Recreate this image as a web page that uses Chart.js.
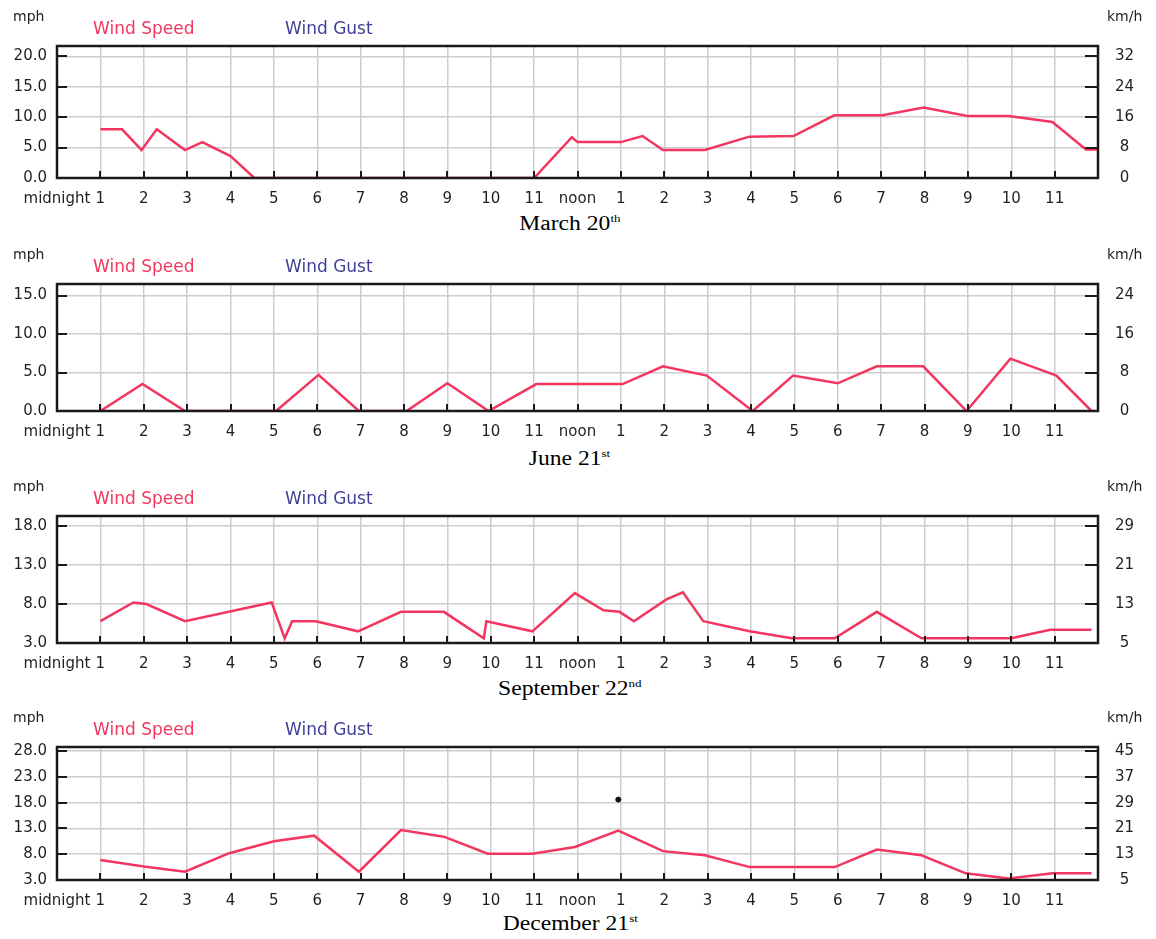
<!DOCTYPE html>
<html>
<head>
<meta charset="utf-8">
<title>Wind speed</title>
<script src="https://cdn.jsdelivr.net/npm/chart.js@4.4.1/dist/chart.umd.min.js"></script>
<style>
  body { margin: 0; background: #fff; }
  #page { position: relative; width: 1156px; height: 939px; overflow: hidden; }
  .panel { position: absolute; left: 0; width: 1156px; }
  .date { position: absolute; left: 0; width: 1140px; text-align: center;
          font-family: 'Liberation Serif', 'Times New Roman', serif; font-size: 20px; color: #000; }
  .date span { display: inline-block; transform: scaleX(1.18); }
  .date sup { font-size: 11px; vertical-align: 8px; }
</style>
</head>
<body>
<div id="page"></div>
<script>
// hour of day (0 = midnight, 24 = next midnight) and wind speed in mph
const marchHours = [1, 1.5, 1.95, 2.3, 2.95, 3.35, 4.0, 4.55, 11.0, 11.87, 12.0, 13.0, 13.5, 13.97, 14.94, 15.96, 16.98, 17.92, 19.03, 19.98, 20.99, 21.94, 22.95, 23.72, 24];
const marchSpeed = [8.0, 8.0, 4.6, 8.0, 4.6, 5.9, 3.6, 0, 0, 6.7, 5.9, 5.9, 6.9, 4.6, 4.6, 6.8, 6.9, 10.3, 10.3, 11.6, 10.2, 10.2, 9.2, 4.7, 4.7];

const juneHours = [1, 1.97, 2.95, 5.05, 6.03, 6.96, 8.06, 9.0, 9.95, 11.05, 13.04, 13.97, 14.98, 16.04, 16.97, 18.0, 18.9, 19.97, 20.97, 21.98, 23.04, 23.85];
const juneSpeed = [0, 3.5, 0, 0, 4.7, 0, 0, 3.6, 0, 3.5, 3.5, 5.8, 4.6, 0, 4.6, 3.6, 5.8, 5.8, 0, 6.8, 4.6, 0];

const septHours = [1, 1.76, 2.06, 2.95, 4.95, 5.25, 5.42, 5.97, 6.94, 7.93, 8.92, 9.84, 9.9, 10.96, 11.94, 12.6, 12.97, 13.3, 14.05, 14.43, 14.9, 15.97, 16.94, 17.93, 18.9, 19.93, 22.0, 22.9, 23.85];
const septSpeed = [5.8, 8.2, 8.0, 5.8, 8.2, 3.6, 5.8, 5.8, 4.5, 7.0, 7.0, 3.6, 5.8, 4.5, 9.4, 7.2, 7.0, 5.8, 8.6, 9.5, 5.8, 4.5, 3.6, 3.6, 7.0, 3.6, 3.6, 4.7, 4.7];

const decHours = [1, 2.0, 2.95, 3.97, 5.0, 5.93, 6.96, 7.93, 8.92, 9.93, 10.96, 11.94, 12.94, 13.97, 14.94, 15.97, 17.93, 18.9, 19.93, 20.95, 21.94, 22.95, 23.85];
const decSpeed = [6.9, 5.6, 4.6, 8.2, 10.5, 11.6, 4.6, 12.7, 11.4, 8.1, 8.1, 9.4, 12.6, 8.6, 7.8, 5.5, 5.5, 8.9, 7.8, 4.3, 3.3, 4.3, 4.3];
const decGustHours = [12.94];
const decGust = [18.6];

// tick values on the mph axis
const marchTicks = [0, 5, 10, 15, 20];
const juneTicks = [0, 5, 10, 15];
const septTicks = [3, 8, 13, 18];
const decTicks = [3, 8, 13, 18, 23, 28];

const hourLabels = ['midnight', '1', '2', '3', '4', '5', '6', '7', '8', '9', '10', '11',
                    'noon', '1', '2', '3', '4', '5', '6', '7', '8', '9', '10', '11', ''];

const MPH_TO_KMH = 1.609344;
const SPEED_COLOR = '#f3365f';
const GUST_COLOR = '#3f3f9a';
const LABEL_COLOR = '#1f1f1f';
const TEXT_FONT = "'DejaVu Sans', 'Liberation Sans', sans-serif";

const panels = [
  { plotTop: 46,  plotBottom: 178, min: 0, max: 21.7, ticks: marchTicks, hours: marchHours, speed: marchSpeed,
    gustHours: [], gust: [], date: 'March 20', sup: 'th', dateY: 225 },
  { plotTop: 284, plotBottom: 411, min: 0, max: 16.5, ticks: juneTicks, hours: juneHours, speed: juneSpeed,
    gustHours: [], gust: [], date: 'June 21', sup: 'st', dateY: 460 },
  { plotTop: 516, plotBottom: 643, min: 3, max: 19.3, ticks: septTicks, hours: septHours, speed: septSpeed,
    gustHours: [], gust: [], date: 'September 22', sup: 'nd', dateY: 690 },
  { plotTop: 747, plotBottom: 880, min: 3, max: 28.8, ticks: decTicks, hours: decHours, speed: decSpeed,
    gustHours: decGustHours, gust: decGust, date: 'December 21', sup: 'st', dateY: 925 }
];

const TOP_PAD = 46;
const X_AXIS_H = 32;

function points(xs, ys) {
  return xs.map((x, i) => ({ x: x, y: ys[i] }));
}

// frame, inner tick marks, unit captions and the two legend words
const framePlugin = {
  id: 'frame',
  afterDatasetsDraw(chart) {
    const { ctx, chartArea: a, scales } = chart;
    ctx.save();
    ctx.strokeStyle = '#1a1a1a';
    ctx.lineWidth = 2;
    ctx.beginPath();
    scales.x.ticks.forEach(t => {
      if (t.value <= 0 || t.value >= 24) return;
      const px = Math.round(scales.x.getPixelForValue(t.value));
      ctx.moveTo(px, a.bottom);
      ctx.lineTo(px, a.bottom - 7);
    });
    scales.y.ticks.forEach(t => {
      const py = Math.round(scales.y.getPixelForValue(t.value));
      ctx.moveTo(a.left, py);
      ctx.lineTo(a.left + 10, py);
      ctx.moveTo(a.right, py);
      ctx.lineTo(a.right - 13, py);
    });
    ctx.stroke();

    ctx.lineWidth = 2.5;
    ctx.strokeRect(a.left, a.top, a.right - a.left, a.bottom - a.top);

    ctx.textBaseline = 'middle';
    ctx.fillStyle = LABEL_COLOR;
    ctx.font = '14px ' + TEXT_FONT;
    ctx.fillText('mph', 13, a.top - 29);
    ctx.fillText('km/h', 1107, a.top - 29);

    ctx.font = '17px ' + TEXT_FONT;
    ctx.fillStyle = SPEED_COLOR;
    ctx.fillText('Wind Speed', 93, a.top - 16);
    ctx.fillStyle = GUST_COLOR;
    ctx.fillText('Wind Gust', 285, a.top - 16);
    ctx.restore();
  }
};

const page = document.getElementById('page');

panels.forEach(p => {
  const box = document.createElement('div');
  box.className = 'panel';
  box.style.top = (p.plotTop - TOP_PAD) + 'px';
  box.style.height = (p.plotBottom - p.plotTop + TOP_PAD + X_AXIS_H) + 'px';
  const canvas = document.createElement('canvas');
  box.appendChild(canvas);
  page.appendChild(box);

  const title = document.createElement('div');
  title.className = 'date';
  title.style.top = (p.dateY - 13) + 'px';
  title.innerHTML = '<span>' + p.date + '<sup>' + p.sup + '</sup></span>';
  page.appendChild(title);

  const setTicks = scale => { scale.ticks = p.ticks.map(v => ({ value: v })); };

  new Chart(canvas.getContext('2d'), {
    type: 'line',
    data: {
      datasets: [
        {
          label: 'Wind Speed',
          data: points(p.hours, p.speed),
          borderColor: SPEED_COLOR,
          borderWidth: 2.5,
          pointRadius: 0,
          tension: 0,
          fill: false
        },
        {
          label: 'Wind Gust',
          data: points(p.gustHours, p.gust),
          showLine: false,
          pointRadius: 2.5,
          pointBackgroundColor: '#111',
          pointBorderColor: '#111'
        }
      ]
    },
    options: {
      responsive: true,
      maintainAspectRatio: false,
      animation: false,
      layout: { padding: { top: TOP_PAD, left: 0, right: 0, bottom: 0 } },
      plugins: {
        legend: { display: false },
        tooltip: { enabled: false }
      },
      scales: {
        x: {
          type: 'linear',
          min: 0,
          max: 24,
          afterFit: s => { s.height = X_AXIS_H; },
          afterBuildTicks: s => { s.ticks = hourLabels.map((l, i) => ({ value: i })); },
          grid: { color: '#cdcdcd', lineWidth: 1.5, drawTicks: false },
          border: { display: false },
          ticks: {
            autoSkip: false,
            maxRotation: 0,
            padding: 12,
            color: LABEL_COLOR,
            font: { family: TEXT_FONT, size: 15 },
            callback: (v) => hourLabels[v]
          }
        },
        y: {
          position: 'left',
          min: p.min,
          max: p.max,
          afterFit: s => { s.width = 57; },
          afterBuildTicks: setTicks,
          grid: { color: '#cdcdcd', lineWidth: 1.5, drawTicks: false },
          border: { display: false },
          ticks: {
            padding: 10,
            color: LABEL_COLOR,
            font: { family: TEXT_FONT, size: 15 },
            callback: v => v.toFixed(1)
          }
        },
        y2: {
          position: 'right',
          min: p.min,
          max: p.max,
          afterFit: s => { s.width = 58; },
          afterBuildTicks: setTicks,
          grid: { display: false, drawTicks: false },
          border: { display: false },
          ticks: {
            padding: 17,
            crossAlign: 'center',
            color: LABEL_COLOR,
            font: { family: TEXT_FONT, size: 15 },
            callback: v => String(Math.round(v * MPH_TO_KMH))
          }
        }
      }
    },
    plugins: [framePlugin]
  });
});
</script>
</body>
</html>
